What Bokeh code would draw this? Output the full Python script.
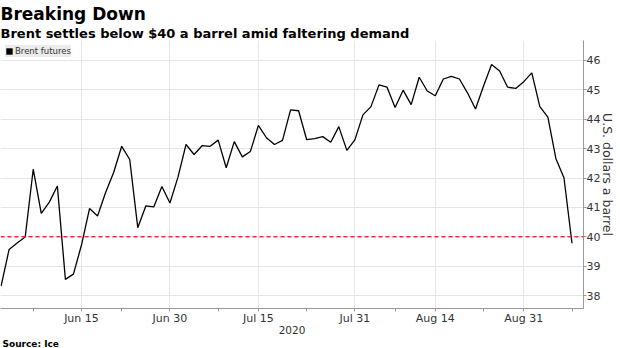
from bokeh.plotting import figure
from bokeh.models import (Range1d, FixedTicker, Span, Title, Legend, LegendItem,
                          ColumnDataSource)
from bokeh.embed import file_html
from bokeh.resources import INLINE

# ---- data ----
dates = [
    "2020-06-01", "2020-06-02", "2020-06-03", "2020-06-04", "2020-06-05",
    "2020-06-08", "2020-06-09", "2020-06-10", "2020-06-11", "2020-06-12",
    "2020-06-15", "2020-06-16", "2020-06-17", "2020-06-18", "2020-06-19",
    "2020-06-22", "2020-06-23", "2020-06-24", "2020-06-25", "2020-06-26",
    "2020-06-29", "2020-06-30",
    "2020-07-01", "2020-07-02", "2020-07-03",
    "2020-07-06", "2020-07-07", "2020-07-08", "2020-07-09", "2020-07-10",
    "2020-07-13", "2020-07-14", "2020-07-15", "2020-07-16", "2020-07-17",
    "2020-07-20", "2020-07-21", "2020-07-22", "2020-07-23", "2020-07-24",
    "2020-07-27", "2020-07-28", "2020-07-29", "2020-07-30", "2020-07-31",
    "2020-08-03", "2020-08-04", "2020-08-05", "2020-08-06", "2020-08-07",
    "2020-08-10", "2020-08-11", "2020-08-12", "2020-08-13", "2020-08-14",
    "2020-08-17", "2020-08-18", "2020-08-19", "2020-08-20", "2020-08-21",
    "2020-08-24", "2020-08-25", "2020-08-26", "2020-08-27", "2020-08-28",
    "2020-08-31",
    "2020-09-01", "2020-09-02", "2020-09-03", "2020-09-04",
    "2020-09-07", "2020-09-08",
]
prices = [
    38.32, 39.57, 39.79, 39.99, 42.30,
    40.80, 41.18, 41.73, 38.55, 38.73,
    39.72, 40.96, 40.71, 41.51, 42.19,
    43.08, 42.63, 40.31, 41.05, 41.02,
    41.71, 41.15,
    42.03, 43.14, 42.80,
    43.10, 43.08, 43.29, 42.35, 43.24,
    42.72, 42.90, 43.79, 43.37, 43.14,
    43.28, 44.32, 44.29, 43.31, 43.34,
    43.41, 43.22, 43.75, 42.94, 43.30,
    44.15, 44.43, 45.17, 45.09, 44.40,
    44.99, 44.50, 45.43, 44.96, 44.80,
    45.37, 45.46, 45.37, 44.90, 44.35,
    45.13, 45.86, 45.64, 45.09, 45.05,
    45.28,
    45.58, 44.43, 44.07, 42.66,
    42.01, 39.78,
]
tick_dates = ["2020-06-15", "2020-06-30", "2020-07-15", "2020-07-31", "2020-08-14", "2020-08-31"]
tick_labels = ["Jun 15", "Jun 30", "Jul 15", "Jul 31", "Aug 14", "Aug 31"]
minor_dates = ["2020-06-05", "2020-06-22", "2020-07-08", "2020-07-23", "2020-08-07", "2020-08-24", "2020-09-08"]
y_ticks = [38, 39, 40, 41, 42, 43, 44, 45, 46]
threshold = 40
year_label = "2020"
series_name = "Brent futures"

title_text = "Breaking Down"
subtitle_text = "Brent settles below $40 a barrel amid faltering demand"
source_text = "Source: Ice"
y_label = "U.S. dollars a barrel"

# ---- build ----
x = list(range(len(dates)))
src = ColumnDataSource(data=dict(x=x, y=prices, date=dates))
major_idx = [dates.index(d) for d in tick_dates]
minor_idx = [dates.index(d) for d in minor_dates]

FONT = "DejaVu Sans"

p = figure(width=620, height=348, output_backend="svg", toolbar_location=None,
           x_range=Range1d(-0.07, 72.43), y_range=Range1d(37.56, 46.68),
           y_axis_location="right",
           min_border_left=0, min_border_right=37, min_border_top=40, min_border_bottom=39)
p.title.visible = False
p.outline_line_color = None
p.background_fill_color = "white"
p.border_fill_color = "white"

# legend swatch renderer: zero-size rects on the series (invisible in plot area)
sq = p.rect("x", "y", width=0, height=0, source=src,
            fill_color="black", line_color=None)

line = p.line("x", "y", source=src, line_color="black", line_width=1.3)
p.add_layout(Span(location=threshold, dimension="width", line_color="#e5304c",
                  line_dash="4 3", line_width=1.5))

# x axis
xa = p.xaxis[0]
xa.ticker = FixedTicker(ticks=major_idx, minor_ticks=minor_idx)
xa.major_label_overrides = {i: l for i, l in zip(major_idx, tick_labels)}
xa.axis_label = year_label
xa.axis_label_text_font = FONT
xa.axis_label_text_font_style = "normal"
xa.axis_label_text_font_size = "10.5px"
xa.axis_label_text_color = "#333333"
xa.axis_label_standoff = -2
xa.major_label_text_font = FONT
xa.major_label_text_font_size = "11px"
xa.major_label_text_color = "#333333"
xa.major_label_standoff = 0
xa.axis_line_color = "#999999"
xa.major_tick_line_color = "#999999"
xa.minor_tick_line_color = "#999999"
xa.major_tick_in = 0
xa.major_tick_out = 3
xa.minor_tick_in = 0
xa.minor_tick_out = 3

# y axis
ya = p.yaxis[0]
ya.ticker = FixedTicker(ticks=y_ticks)
ya.axis_label = y_label
ya.axis_label_text_font = FONT
ya.axis_label_text_font_style = "normal"
ya.axis_label_text_font_size = "12.5px"
ya.axis_label_text_color = "#333333"
ya.axis_label_standoff = -3
ya.major_label_text_font = FONT
ya.major_label_text_font_size = "11px"
ya.major_label_text_color = "#333333"
ya.major_label_standoff = 0
ya.axis_line_color = "#999999"
ya.major_tick_line_color = "#999999"
ya.major_tick_in = 0
ya.major_tick_out = 3
ya.minor_tick_line_color = None

p.xgrid.ticker = FixedTicker(ticks=major_idx)
p.xgrid.grid_line_color = "#e6e6e6"
p.ygrid.grid_line_color = "#e6e6e6"

legend = Legend(items=[LegendItem(label=series_name, renderers=[sq])],
                location="top_left", margin=5, padding=4, spacing=0,
                label_text_font=FONT, label_text_font_size="8.5px",
                label_text_color="#333333", label_standoff=2,
                glyph_width=8, glyph_height=8, label_height=12,
                label_text_baseline="middle",
                background_fill_color="#ececec", background_fill_alpha=1,
                border_line_color=None)
p.add_layout(legend)

# titles
src_title = Title(text=source_text, align="left", text_font=FONT, text_font_style="bold",
                  text_font_size="9px", text_color="black", standoff=0, offset=2)
p.add_layout(src_title, "below")
sub = Title(text=subtitle_text, align="left", text_font=FONT, text_font_style="bold",
            text_font_size="13px", text_color="black", standoff=0, offset=0)
p.add_layout(sub, "above")
main = Title(text=title_text, align="left", text_font=FONT, text_font_style="bold",
             text_font_size="17px", text_color="black", standoff=0, offset=0)
p.add_layout(main, "above")

open("out.html", "w").write(file_html(p, INLINE))
